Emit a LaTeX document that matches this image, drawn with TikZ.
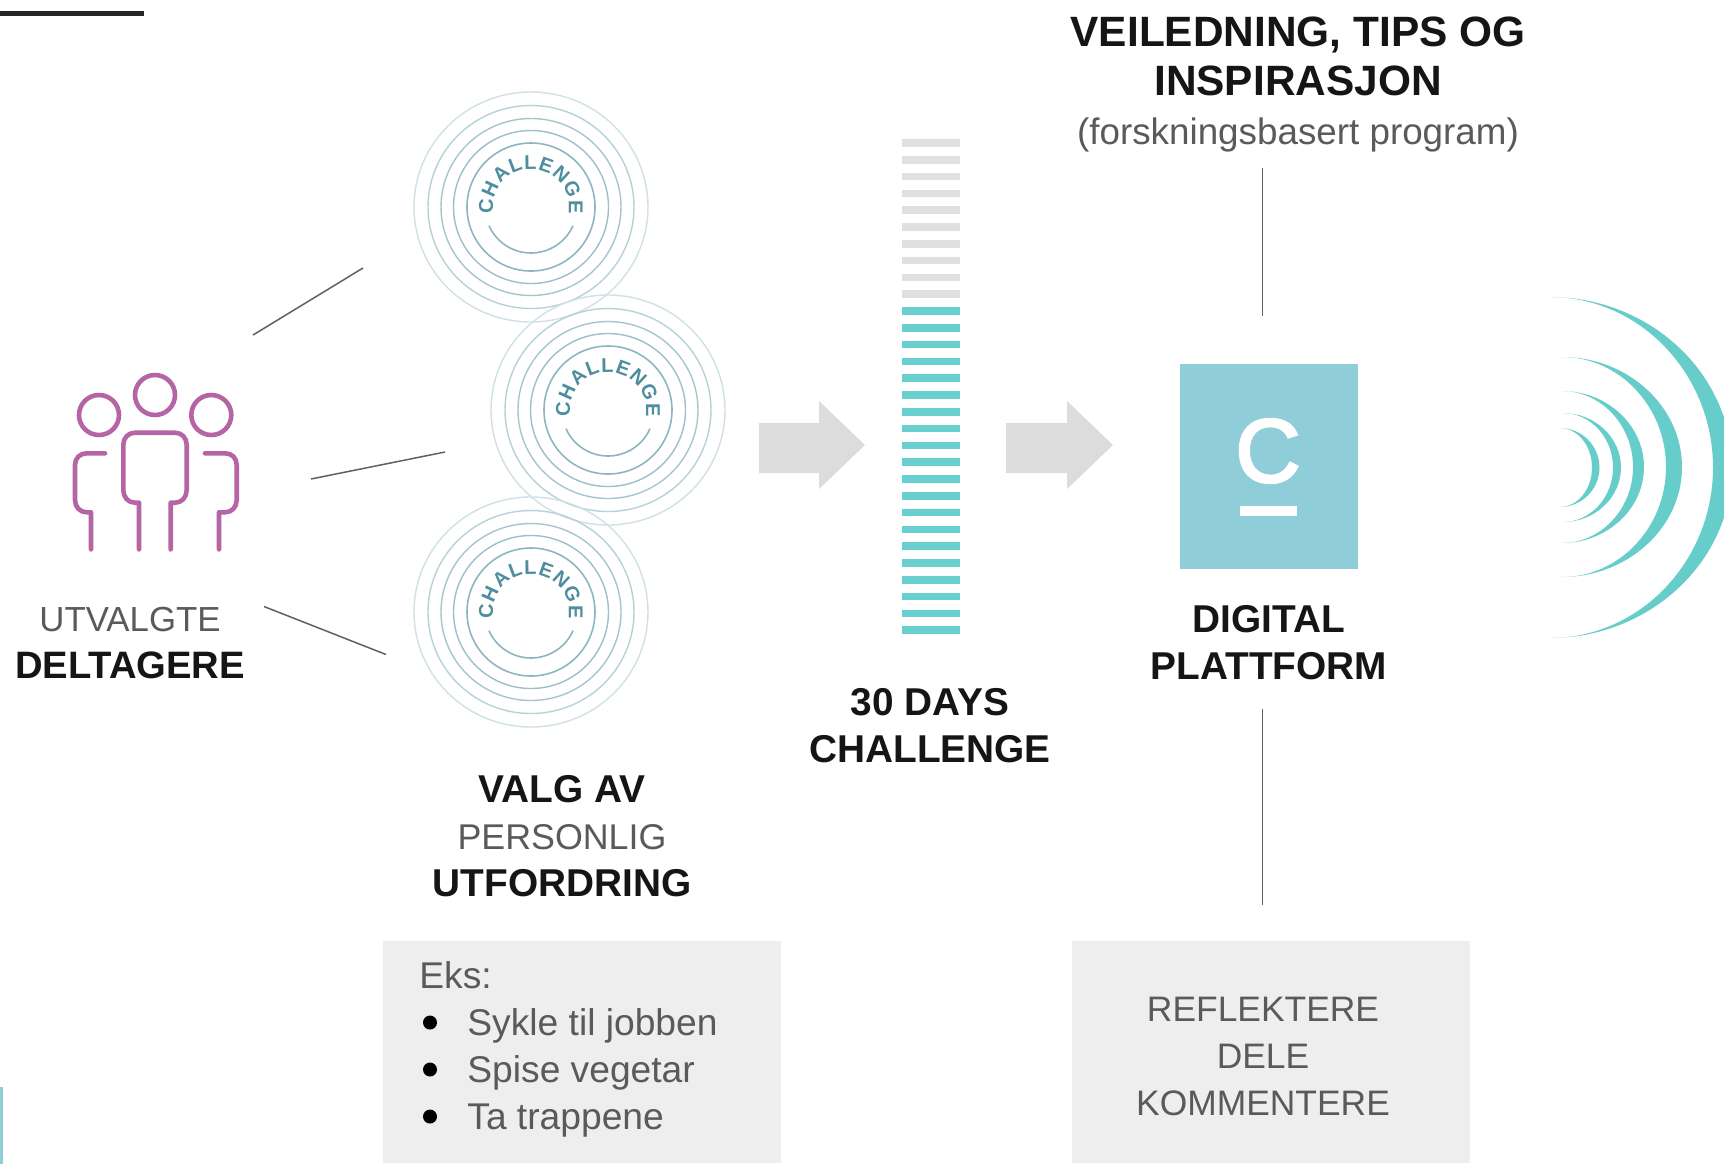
\documentclass[tikz,border=0pt]{standalone}
\usepackage{fontspec}
\setmainfont{Liberation Sans}
\newfontfamily\tilefont[FakeBold=3]{Liberation Sans}
\usetikzlibrary{decorations.text}
\definecolor{ringA}{HTML}{D0E1E5}
\definecolor{ringB}{HTML}{B7D1D8}
\definecolor{ringC}{HTML}{A6C6CE}
\definecolor{ringD}{HTML}{9CC0C9}
\definecolor{ringE}{HTML}{8DB6C0}
\definecolor{ringtext}{HTML}{4F8E9F}
\definecolor{people}{HTML}{B565A5}
\definecolor{signal}{HTML}{67CDCB}
\definecolor{platform}{HTML}{8FCED8}
\definecolor{barteal}{HTML}{67CFCE}
\definecolor{bargray}{HTML}{E0E0E0}
\definecolor{arrowgray}{HTML}{DCDCDC}
\definecolor{panel}{HTML}{EEEEEE}
\definecolor{lighttext}{HTML}{5A5A5A}
\definecolor{strongtext}{HTML}{151515}
\newcommand\ringfont{\fontsize{10}{10}\bfseries\selectfont\color{ringtext}}
\newcommand\lite[2][17.4]{{\fontsize{#1}{23.5}\mdseries\selectfont\color{lighttext}#2}}
\newcommand\crescent[5]{% x0, ytop, ybot, xouter, xinner
  \pgfmathsetmacro\ym{(#2+#3)/2}
  \pgfmathsetmacro\ao{#1+0.55*(#4-#1)}
  \pgfmathsetmacro\ai{#1+0.55*(#5-#1)}
  \pgfmathsetmacro\bb{0.55*(#2-#3)/2}
  \fill[signal] (#1,#2) .. controls (\ao,#2) and (#4,\ym+\bb) .. (#4,\ym)
    .. controls (#4,\ym-\bb) and (\ao,#3) .. (#1,#3)
    .. controls (\ai,#3) and (#5,\ym-\bb) .. (#5,\ym)
    .. controls (#5,\ym+\bb) and (\ai,#2) .. (#1,#2) -- cycle;
}
\tikzset{
  x=0.5pt,y=0.5pt,
  label text/.style={inner sep=0pt,align=center,text=strongtext,font=\fontsize{19.4}{23.5}\selectfont\bfseries},
  plain text/.style={inner sep=0pt,anchor=base west,text=lighttext,font=\fontsize{18.6}{23.5}\selectfont},
  link/.style={draw=black!62,line width=0.75pt},
  person/.style={draw=people,line width=2.3pt,line join=round,line cap=round},
  panelbox/.style={fill=panel,draw=none},
  challenge/.pic={
    \draw[ringA,line width=.7pt] (0,0) ellipse[x radius=117,y radius=115];
    \draw[ringB,line width=.7pt] (0,0) ellipse[x radius=103,y radius=101.5];
    \draw[ringC,line width=.7pt] (0,0) ellipse[x radius=90,y radius=88.5];
    \draw[ringD,line width=.7pt] (0,0) ellipse[x radius=77.5,y radius=76.5];
    \draw[ringE,line width=.8pt] (0,0) circle[radius=64];
    \draw[ringE,line width=.8pt] (204:46) arc[start angle=204,end angle=336,radius=46];
    \path[decorate,decoration={text along path,text align={fit to path},
      text={|\ringfont|CHALLENGE}}] (190:38) arc[start angle=190,end angle=-10,radius=38];
  },
}
\begin{document}
\begin{tikzpicture}
\useasboundingbox (0,-1164) rectangle (1724,0);
\clip (0,-1164) rectangle (1724,0);
\fill[white] (0,-1164) rectangle (1724,0);

% corner marks
\fill[black!85] (0,-11) rectangle (144,-15.5);
\fill[platform] (0,-1087) rectangle (3,-1164);

% people icon
\draw[person] (155,-395) circle[radius=20];
\draw[person] (99,-415) circle[radius=20];
\draw[person] (211.3,-415) circle[radius=20];
\draw[person] (139,-549.3) -- (139,-502.7) -- (135,-502.7)
  .. controls (128,-502.7) and (123.3,-497) .. (123.3,-490) -- (123.3,-445)
  .. controls (123.3,-438) and (128,-432.7) .. (135,-432.7) -- (175,-432.7)
  .. controls (182,-432.7) and (186.7,-438) .. (186.7,-445) -- (186.7,-490)
  .. controls (186.7,-497) and (182,-502.7) .. (175,-502.7) -- (170.7,-502.7) -- (170.7,-549.3);
\draw[person] (105,-453.3) -- (86.7,-453.3) .. controls (80,-453.3) and (75,-458) .. (75,-465)
  -- (75,-500) .. controls (75,-507) and (80,-512.3) .. (86.7,-512.3) -- (91,-512.3) -- (91,-549.3);
\draw[person] (205,-453.3) -- (225,-453.3) .. controls (232,-453.3) and (236.7,-458) .. (236.7,-465)
  -- (236.7,-500) .. controls (236.7,-507) and (232,-512.3) .. (225,-512.3) -- (219,-512.3) -- (219,-549.3);

% connectors from the people to the rings
\coordinate (pA) at (253,-335); \coordinate (rA) at (363,-268);
\coordinate (pB) at (311,-479); \coordinate (rB) at (445,-452);
\coordinate (pC) at (264,-606.5); \coordinate (rC) at (386,-654.5);
\draw[link] (pA) -- (rA);
\draw[link] (pB) -- (rB);
\draw[link] (pC) -- (rC);

% challenge rings
\pic at (531,-207) {challenge};
\pic at (608,-410) {challenge};
\pic at (531,-612) {challenge};

% block arrows
\fill[arrowgray] (759,-423) -- (819,-423) -- (819,-401) -- (865,-445) -- (819,-489) -- (819,-473) -- (759,-473) -- cycle;
\fill[arrowgray] (1006,-423) -- (1067,-423) -- (1067,-401) -- (1113,-445) -- (1067,-489) -- (1067,-473) -- (1006,-473) -- cycle;

% 30 days bars
\foreach \i in {0,...,29}{
  \pgfmathsetmacro\yy{-143-16.8*\i}
  \ifnum\i<10 \def\barcol{bargray}\else \def\barcol{barteal}\fi
  \fill[\barcol] (902,\yy+3.8) rectangle (960,\yy-3.8);
}

% digital platform tile
\node[fill=platform,minimum width=89pt,minimum height=102.5pt,inner sep=0pt] (tile) at (1269,-466.5) {};
\node[inner sep=0pt,text=white,font=\fontsize{45}{45}\tilefont\selectfont] (tileC) at (1268,-451) {C};
\fill[white] (1240,-505.7) rectangle (1297,-516);

% signal arcs
\crescent{1550}{-297}{-638}{1732}{1713}
\crescent{1562}{-357}{-577}{1682}{1666}
\crescent{1562}{-391}{-543}{1644}{1633}
\crescent{1563}{-413}{-522}{1621}{1613}
\crescent{1560}{-428}{-507}{1599.5}{1592}

% labels
\node[label text,font=\fontsize{21.2}{24.5}\selectfont\bfseries] (top) at (1298,-84.5)
  {VEILEDNING, TIPS OG\\INSPIRASJON\\\lite[18.4]{(forskningsbasert program)}};
\node[label text,font=\fontsize{19.1}{23.5}\selectfont\bfseries] (who) at (130,-643.5) {\lite{UTVALGTE}\\DELTAGERE};
\node[label text] (choice) at (562,-836) {VALG AV\\\lite[17.9]{PERSONLIG}\\UTFORDRING};
\node[label text] (days) at (930,-725.5) {30 DAYS\\CHALLENGE};
\node[label text] (plat) at (1269,-643) {DIGITAL\\PLATTFORM};

% platform connectors
\coordinate (tUp) at (1262.5,-168); \coordinate (tUpEnd) at (1262.5,-316);
\coordinate (tDn) at (1262.5,-709); \coordinate (tDnEnd) at (1262.5,-905);
\draw[link] (tUp) -- (tUpEnd);
\draw[link] (tDn) -- (tDnEnd);

% grey panels
\fill[panelbox] (383,-941) rectangle (780.5,-1163);
\fill[panelbox] (1072,-941) rectangle (1470,-1163);
\node[plain text] (eks) at (419,-988) {Eks:};
\foreach \yy/\nm/\tx in {1035/a/Sykle til jobben,1082/b/Spise vegetar,1129/c/Ta trappene}{
  \fill[black] (430,-\yy+12.5) circle[radius=7];
  \node[plain text] (item\nm) at (467,-\yy) {\tx};
}
\node[label text,font=\fontsize{17.7}{23.5}\selectfont,text=lighttext] (acts) at (1263,-1056.5)
  {REFLEKTERE\\DELE\\KOMMENTERE};
\end{tikzpicture}
\end{document}
